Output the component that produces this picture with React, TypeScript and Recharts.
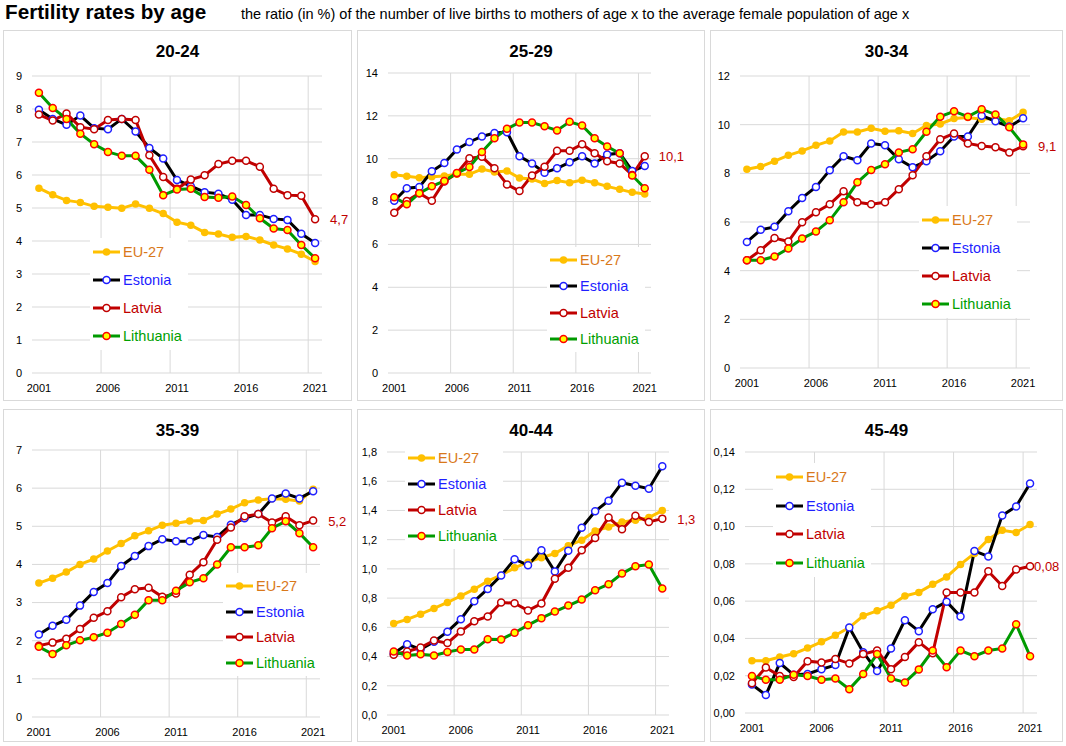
import React from 'react';
import { LineChart, Line, XAxis, YAxis, CartesianGrid, ReferenceLine, Legend, LabelList } from 'recharts';

const years = [2001, 2002, 2003, 2004, 2005, 2006, 2007, 2008, 2009, 2010, 2011, 2012, 2013, 2014, 2015, 2016, 2017, 2018, 2019, 2020, 2021];
const yearTicks = [2001, 2006, 2011, 2016, 2021];
const yearBreaks = [2005.5, 2010.5, 2015.5, 2020.5];

// 20-24
const eu2024 = [5.6, 5.4, 5.23, 5.17, 5.05, 5.02, 4.99, 5.12, 4.99, 4.83, 4.57, 4.48, 4.26, 4.21, 4.11, 4.14, 4.03, 3.88, 3.76, 3.6, 3.38];
const ee2024 = [7.98, 7.7, 7.52, 7.8, 7.42, 7.39, 7.7, 7.32, 6.82, 6.5, 5.85, 5.66, 5.48, 5.43, 5.25, 4.79, 4.79, 4.67, 4.64, 4.22, 3.94];
const lv2024 = [7.83, 7.65, 7.86, 7.45, 7.39, 7.67, 7.7, 7.67, 6.6, 5.94, 5.58, 5.86, 5.99, 6.33, 6.43, 6.43, 6.25, 5.58, 5.39, 5.37, 4.66];
const lt2024 = [8.49, 8.03, 7.7, 7.25, 6.93, 6.7, 6.58, 6.58, 6.16, 5.39, 5.56, 5.58, 5.33, 5.31, 5.35, 5.09, 4.69, 4.38, 4.33, 3.88, 3.48];

// 25-29
const eu2529 = [9.25, 9.18, 9.11, 9.16, 9.19, 9.27, 9.27, 9.52, 9.38, 9.43, 9.1, 9.05, 8.84, 8.98, 8.88, 9.0, 8.88, 8.71, 8.57, 8.43, 8.35];
const ee2529 = [8.04, 8.62, 8.68, 9.41, 9.8, 10.43, 10.78, 11.04, 11.2, 11.24, 10.11, 9.78, 9.35, 9.55, 9.83, 10.11, 9.78, 10.2, 10.26, 9.43, 9.66];
const lv2529 = [7.48, 8.03, 8.39, 8.04, 8.94, 9.32, 10.02, 10.09, 9.55, 8.8, 8.49, 9.22, 9.63, 10.37, 10.37, 10.68, 10.26, 9.88, 9.78, 9.24, 10.11];
const lt2529 = [8.2, 7.87, 8.39, 8.71, 8.96, 9.33, 9.61, 10.31, 10.95, 11.4, 11.69, 11.69, 11.51, 11.32, 11.72, 11.55, 10.95, 10.57, 10.25, 9.22, 8.62];

// 30-34
const eu3034 = [8.17, 8.28, 8.5, 8.74, 8.92, 9.15, 9.33, 9.7, 9.7, 9.85, 9.73, 9.75, 9.64, 9.97, 10.03, 10.25, 10.29, 10.22, 10.26, 10.16, 10.51];
const ee3034 = [5.18, 5.68, 5.8, 6.44, 6.99, 7.44, 8.13, 8.7, 8.54, 9.23, 9.15, 8.58, 8.25, 8.5, 8.91, 9.51, 9.51, 10.37, 10.14, 9.92, 10.26];
const lv3034 = [4.43, 4.84, 5.34, 5.2, 5.99, 6.4, 6.73, 7.26, 6.81, 6.73, 6.81, 7.35, 7.92, 8.7, 9.4, 9.64, 9.23, 9.12, 9.07, 8.86, 9.11];
const lt3034 = [4.43, 4.43, 4.58, 4.91, 5.32, 5.61, 6.07, 6.81, 7.63, 8.14, 8.37, 8.86, 8.99, 9.71, 10.33, 10.55, 10.33, 10.63, 10.42, 9.89, 9.19];

// 35-39
const eu3539 = [3.51, 3.64, 3.8, 4.0, 4.14, 4.35, 4.55, 4.75, 4.88, 5.03, 5.08, 5.14, 5.15, 5.32, 5.45, 5.62, 5.69, 5.72, 5.71, 5.66, 5.97];
const ee3539 = [2.16, 2.39, 2.55, 2.92, 3.28, 3.51, 3.96, 4.22, 4.48, 4.66, 4.61, 4.61, 4.77, 4.72, 5.04, 5.21, 5.32, 5.73, 5.86, 5.73, 5.92];
const lv3539 = [1.87, 1.95, 2.05, 2.31, 2.6, 2.77, 3.14, 3.35, 3.39, 3.15, 3.24, 3.73, 4.06, 4.65, 4.97, 5.26, 5.32, 5.1, 5.26, 5.03, 5.15];
const lt3539 = [1.84, 1.65, 1.88, 2.01, 2.09, 2.21, 2.44, 2.68, 3.06, 3.06, 3.31, 3.53, 3.64, 4.0, 4.45, 4.45, 4.5, 4.95, 5.13, 4.82, 4.45];

// 40-44
const eu4044 = [0.626, 0.654, 0.69, 0.729, 0.77, 0.815, 0.861, 0.916, 0.957, 1.007, 1.046, 1.077, 1.105, 1.159, 1.196, 1.26, 1.287, 1.321, 1.333, 1.351, 1.399];
const ee4044 = [0.421, 0.485, 0.449, 0.501, 0.57, 0.656, 0.779, 0.863, 0.954, 1.066, 1.025, 1.128, 0.982, 1.125, 1.282, 1.394, 1.467, 1.59, 1.569, 1.549, 1.702];
const lv4044 = [0.412, 0.435, 0.462, 0.51, 0.492, 0.572, 0.642, 0.674, 0.77, 0.765, 0.715, 0.763, 0.932, 1.007, 1.128, 1.212, 1.351, 1.271, 1.364, 1.321, 1.344];
const lt4044 = [0.435, 0.408, 0.415, 0.408, 0.431, 0.449, 0.449, 0.519, 0.517, 0.563, 0.615, 0.663, 0.708, 0.749, 0.79, 0.854, 0.895, 0.968, 1.018, 1.03, 0.866];

// 45-49
const eu4549 = [0.028, 0.028, 0.03, 0.0318, 0.0348, 0.0382, 0.0417, 0.0458, 0.0521, 0.0548, 0.0578, 0.0628, 0.0647, 0.069, 0.073, 0.0797, 0.0856, 0.0931, 0.098, 0.0968, 0.1011];
const ee4549 = [0.0153, 0.0096, 0.0268, 0.0205, 0.0209, 0.0235, 0.0257, 0.0458, 0.0326, 0.0225, 0.0346, 0.0498, 0.0439, 0.0556, 0.0597, 0.0517, 0.0869, 0.084, 0.106, 0.1108, 0.1231];
const lv4549 = [0.016, 0.0244, 0.0198, 0.0193, 0.0278, 0.0271, 0.029, 0.0266, 0.0316, 0.0335, 0.0235, 0.03, 0.038, 0.0321, 0.0647, 0.0647, 0.0647, 0.076, 0.0681, 0.077, 0.0787];
const lt4549 = [0.0198, 0.0178, 0.0178, 0.0205, 0.0198, 0.0178, 0.0185, 0.0128, 0.0209, 0.0316, 0.0185, 0.0164, 0.0234, 0.0335, 0.0246, 0.0335, 0.0305, 0.0335, 0.0346, 0.0476, 0.0305];

const ticks2024 = [0, 1, 2, 3, 4, 5, 6, 7, 8, 9];
const ticks2529 = [0, 2, 4, 6, 8, 10, 12, 14];
const ticks3034 = [0, 2, 4, 6, 8, 10, 12];
const ticks3539 = [0, 1, 2, 3, 4, 5, 6, 7];
const ticks4044 = [0, 0.2, 0.4, 0.6, 0.8, 1.0, 1.2, 1.4, 1.6, 1.8];
const ticks4549 = [0, 0.02, 0.04, 0.06, 0.08, 0.1, 0.12, 0.14];

const series = [
  { key: 'eu', name: 'EU-27', line: '#ffc000', fill: '#ffc000', dot: '#ffc000', r: 3, text: '#d9781a' },
  { key: 'ee', name: 'Estonia', line: '#000000', fill: '#ffffff', dot: '#1f1fff', r: 3.5, text: '#1f1fff' },
  { key: 'lv', name: 'Latvia', line: '#c00000', fill: '#ffffff', dot: '#c00000', r: 3.5, text: '#c00000' },
  { key: 'lt', name: 'Lithuania', line: '#009a00', fill: '#ffff00', dot: '#ff0000', r: 3.5, text: '#00a000' },
];

// box: x, y, w, h ; plot: left, top, right, bottom ; legend: lineX, firstRowY, rowGap
const panels = [
  { title: '20-24', eu: eu2024, ee: ee2024, lv: lv2024, lt: lt2024, ticks: ticks2024, digits: 0, end: '4,7', dx: 15,
    box: [3, 30, 349, 371], plot: [32, 76, 322, 373], legend: [93, 252, 28] },
  { title: '25-29', eu: eu2529, ee: ee2529, lv: lv2529, lt: lt2529, ticks: ticks2529, digits: 0, end: '10,1', dx: 14,
    box: [357, 30, 348, 371], plot: [388, 73, 651, 373], legend: [550, 260, 26.3] },
  { title: '30-34', eu: eu3034, ee: ee3034, lv: lv3034, lt: lt3034, ticks: ticks3034, digits: 0, end: '9,1', dx: 15,
    box: [710, 30, 353, 371], plot: [740, 76, 1030, 368], legend: [922, 220, 28] },
  { title: '35-39', eu: eu3539, ee: ee3539, lv: lv3539, lt: lt3539, ticks: ticks3539, digits: 0, end: '5,2', dx: 15,
    box: [3, 409, 349, 333], plot: [32, 450, 320, 717], legend: [226, 586, 25.7] },
  { title: '40-44', eu: eu4044, ee: ee4044, lv: lv4044, lt: lt4044, ticks: ticks4044, digits: 1, end: '1,3', dx: 15,
    box: [357, 409, 348, 333], plot: [387, 452, 669, 715], legend: [408, 458, 26] },
  { title: '45-49', eu: eu4549, ee: ee4549, lv: lv4549, lt: lt4549, ticks: ticks4549, digits: 2, end: '0,08', dx: 4,
    box: [710, 409, 353, 333], plot: [745, 452, 1037, 713], legend: [776, 477, 28.7] },
];

const fmt = (digits: number) => (v: number) => v.toFixed(digits).replace('.', ',');

const legendContent = (gap: number) => () => (
  <div style={{ display: 'inline-block', background: '#fff', padding: '0 6px 0 3px' }}>
    {series.map((s) => (
      <div key={s.key} style={{ display: 'flex', alignItems: 'center', height: gap }}>
        <svg width={30} height={12} style={{ display: 'block' }}>
          <line x1={0} y1={6} x2={27} y2={6} stroke={s.line} strokeWidth={3} />
          <circle cx={13.5} cy={6} r={s.r} fill={s.fill} stroke={s.dot} strokeWidth={1.5} />
        </svg>
        <span style={{ color: s.text, fontSize: 14.5, lineHeight: '16px' }}>{s.name}</span>
      </div>
    ))}
  </div>
);

const endLabel = (dx: number) => (props: any) => {
  const { x, y, value } = props;
  if (!value) return null;
  return (
    <text x={x + dx} y={y} dy={5} fill='#c00000' fontSize={13}>{value}</text>
  );
};

function Panel({ p }: { p: any }) {
  const [bx, by, bw, bh] = p.box;
  const [L, T, R, B] = p.plot;
  const ox = bx + 1;
  const oy = by + 1;
  const cw = bw - 2;
  const ch = bh - 2;
  const xHeight = 20;
  const margin = { top: T - oy, right: ox + cw - R, bottom: oy + ch - B - xHeight, left: 0 };
  const data = years.map((year, i) => ({
    year,
    eu: p.eu[i],
    ee: p.ee[i],
    lv: p.lv[i],
    lt: p.lt[i],
    end: i === years.length - 1 ? p.end : '',
  }));
  const [lx, ly, gap] = p.legend;
  const top = p.ticks[p.ticks.length - 1];

  return (
    <div style={{ position: 'absolute', left: bx, top: by, width: bw, height: bh, border: '1px solid #d9d9d9', boxSizing: 'border-box' }}>
      <div style={{ position: 'absolute', left: 0, width: cw, top: 11, textAlign: 'center', fontWeight: 'bold', fontSize: 17, lineHeight: '20px' }}>
        {p.title}
      </div>
      <LineChart width={cw} height={ch} data={data} margin={margin}>
        <CartesianGrid vertical={false} stroke='#d9d9d9' />
        {yearBreaks.map((b) => (
          <ReferenceLine key={b} x={b} stroke='#d9d9d9' />
        ))}
        <XAxis
          dataKey='year'
          type='number'
          domain={[2000.5, 2021.5]}
          ticks={yearTicks}
          interval={0}
          height={xHeight}
          axisLine={false}
          tickLine={false}
          tickMargin={5}
          tick={{ fill: '#000', fontSize: 11 }}
        />
        <YAxis
          domain={[0, top]}
          ticks={p.ticks}
          interval={0}
          width={L - ox}
          axisLine={false}
          tickLine={false}
          tickMargin={4}
          tickFormatter={fmt(p.digits)}
          tick={{ fill: '#000', fontSize: 11 }}
        />
        <Legend
          layout='horizontal'
          verticalAlign='middle'
          align='center'
          content={legendContent(gap)}
          wrapperStyle={{ left: lx - ox - 3, top: ly - oy - gap / 2, width: 'auto', height: 'auto' }}
        />
        {series.map((s) => (
          <Line
            key={s.key}
            dataKey={s.key}
            type='linear'
            stroke={s.line}
            strokeWidth={3}
            dot={{ r: s.r, fill: s.fill, stroke: s.dot, strokeWidth: 1.5 }}
            activeDot={false}
            isAnimationActive={false}
          >
            {s.key === 'lv' && <LabelList dataKey='end' content={endLabel(p.dx)} />}
          </Line>
        ))}
      </LineChart>
    </div>
  );
}

export default function App() {
  return (
    <div style={{ position: 'absolute', left: 0, top: 0, width: 1066, height: 746, background: '#fff', fontFamily: '"Liberation Sans", Arial, sans-serif', overflow: 'hidden' }}>
      <div style={{ position: 'absolute', left: 5, top: 0, fontSize: 20.7, fontWeight: 'bold', lineHeight: '24px' }}>
        Fertility rates by age
      </div>
      <div style={{ position: 'absolute', left: 241, top: 5, fontSize: 14.5, lineHeight: '18px' }}>
        the ratio (in %) of the number of live births to mothers of age x to the average female population of age x
      </div>
      {panels.map((p) => (
        <Panel key={p.title} p={p} />
      ))}
    </div>
  );
}
